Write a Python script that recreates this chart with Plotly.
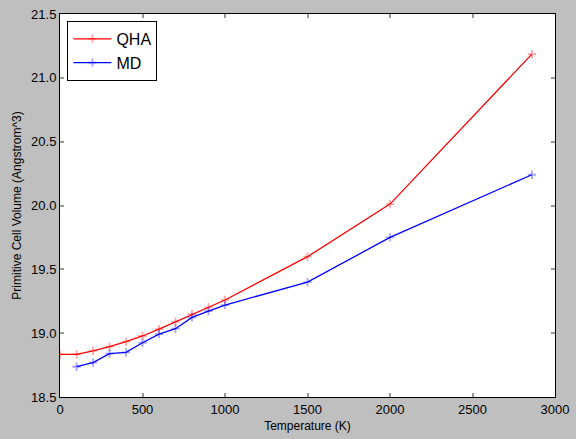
import plotly.graph_objects as go

# temperatures (K) and primitive cell volumes (Angstrom^3)
qha_temp = [0, 100, 200, 300, 400, 500, 600, 700, 800, 900, 1000, 1500, 2000, 2860]
qha_vol = [18.834, 18.834, 18.862, 18.894, 18.933, 18.978, 19.032, 19.09, 19.148,
           19.202, 19.26, 19.599, 20.011, 21.186]

md_temp = [100, 200, 300, 400, 500, 600, 700, 800, 900, 1000, 1500, 2000, 2860]
md_vol = [18.737, 18.769, 18.84, 18.85, 18.925, 18.993, 19.035, 19.124, 19.173,
          19.22, 19.40, 19.75, 20.241]

x_ticks = [0, 500, 1000, 1500, 2000, 2500, 3000]
y_ticks = [18.5, 19.0, 19.5, 20.0, 20.5, 21.0, 21.5]

fig = go.Figure()

for name, xs, ys, col, faint in [
    ("QHA", qha_temp, qha_vol, "#ff0000", "rgba(255,0,0,0.35)"),
    ("MD", md_temp, md_vol, "#0000ff", "rgba(0,0,255,0.35)"),
]:
    fig.add_trace(
        go.Scatter(
            x=xs,
            y=ys,
            mode="lines+markers",
            name=name,
            line=dict(color=col, width=1.3),
            marker=dict(symbol="cross-thin", size=6, color=faint,
                        line=dict(color=faint, width=1.8)),
        )
    )

axis_style = dict(
    automargin=False,
    showgrid=False,
    zeroline=False,
    showline=True,
    linecolor="black",
    linewidth=1,
    mirror="ticks",
    ticks="inside",
    ticklen=4,
    tickwidth=1.5,
    tickcolor="#999999",
    tickfont=dict(family="Liberation Sans", size=13, color="black"),
)

fig.update_xaxes(range=[0, 3000], tickvals=x_ticks,
                 title=dict(text="Temperature (K)", standoff=6,
                            font=dict(family="Liberation Sans", size=12, color="black")),
                 **axis_style)
fig.update_yaxes(range=[18.5, 21.5], tickvals=y_ticks, tickformat=".1f",
                 title=dict(text="Primitive Cell Volume (Angstrom^3)", standoff=6,
                            font=dict(family="Liberation Sans", size=12, color="black")),
                 **axis_style)

fig.update_layout(
    width=576,
    height=439,
    margin=dict(l=60, r=21, t=14, b=42, autoexpand=False),
    paper_bgcolor="#bfbfbf",
    plot_bgcolor="white",
    showlegend=True,
    legend=dict(
        x=0.015, y=0.982, xanchor="left", yanchor="top",
        bgcolor="white", bordercolor="black", borderwidth=1,
        font=dict(family="Liberation Sans", size=16, color="black"),
        itemwidth=38,
        tracegroupgap=0,
    ),
)

# the page body has a default margin; drop it so the figure fills the window
fig.write_html("out.html",
               config={"displayModeBar": False},
               post_script="document.body.style.margin='0';document.body.style.background='#bfbfbf';")
